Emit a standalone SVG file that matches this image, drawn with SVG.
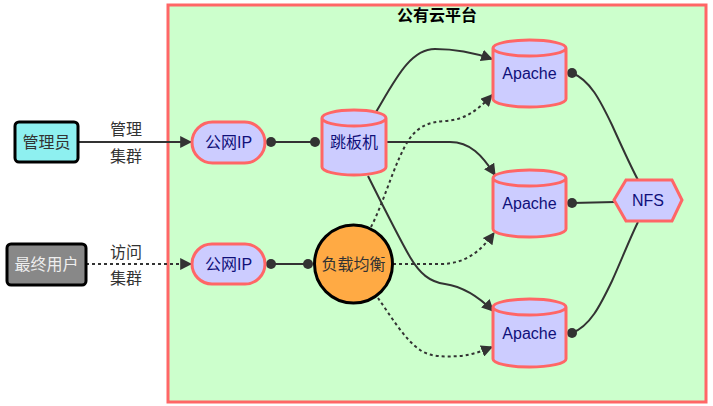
<svg xmlns="http://www.w3.org/2000/svg" width="713" height="406" viewBox="0 0 713 406">
<style>
text{font-family:"Liberation Sans","Noto Sans CJK SC",sans-serif;font-size:16px;text-anchor:middle;dominant-baseline:central}
.pool{fill:#ccccff;stroke:#ff6666;stroke-width:3}
.pt{fill:#10107a}
.lbl{fill:#333}
.e{fill:none;stroke:#333;stroke-width:2}
.d{stroke-dasharray:3 3}
.dot{fill:#333}
</style>
<defs>
<marker id="ah" viewBox="0 0 10 10" refX="9" refY="5" markerWidth="6" markerHeight="6" markerUnits="strokeWidth" orient="auto">
<path d="M0,0 L10,5 L0,10 z" fill="#333"/>
</marker>
</defs>
<g id="cluster">
<rect x="168" y="5" width="538" height="397" fill="#ccffcc" stroke="#ff6666" stroke-width="3"/>
<text x="437" y="15" font-weight="bold" fill="#000">公有云平台</text>
</g>
<g id="connectors">
<path class="e" d="M78,142 L191,142" marker-end="url(#ah)"/>
<path class="e d" d="M86,264 L191,264" marker-end="url(#ah)"/>
<path class="e" d="M271,142 L315,142"/>
<circle class="dot" cx="271" cy="142" r="5"/>
<circle class="dot" cx="315" cy="142" r="5"/>
<path class="e" d="M271,264 L308,264"/>
<circle class="dot" cx="271" cy="264" r="5"/>
<circle class="dot" cx="308" cy="264" r="5"/>
<path class="e" d="M376,112 C395,80 410,49 435,49 C455,49 475,53 492,59" marker-end="url(#ah)"/>
<path class="e" d="M386,142 L450,142 C470,142 482,155 495,175" marker-end="url(#ah)"/>
<path class="e" d="M368,176 C375,190 400,240 410,257 C420,274 430,282 445,284 C465,287 480,298 493,311" marker-end="url(#ah)"/>
<path class="e d" d="M371,227 C385,200 395,160 410,138 C420,125 430,122 445,121 C465,120 478,110 492,95" marker-end="url(#ah)"/>
<path class="e d" d="M393,264 L440,264 C465,264 480,252 494,233" marker-end="url(#ah)"/>
<path class="e d" d="M378,298 C390,315 405,340 420,350 C430,357 445,357 460,356 C472,355 482,351 492,347" marker-end="url(#ah)"/>
<path class="e" d="M572,73 C590,80 600,100 612,125 C622,147 630,165 638,180"/>
<path class="e" d="M572,203 L615,202"/>
<path class="e" d="M572,333 C590,326 600,306 612,281 C622,259 630,238 638,222"/>
<circle class="dot" cx="572" cy="73" r="5"/>
<circle class="dot" cx="572" cy="203" r="5"/>
<circle class="dot" cx="572" cy="333" r="5"/>
<text class="lbl" x="126" y="129">管理</text>
<text class="lbl" x="126" y="156">集群</text>
<text class="lbl" x="126" y="252">访问</text>
<text class="lbl" x="126" y="278">集群</text>
</g>
<g id="admin">
<rect x="15" y="122" width="63" height="40" rx="4" fill="#8ef0f0" stroke="#000" stroke-width="3"/>
<text x="46.5" y="142" fill="#333">管理员</text>
</g>
<g id="user">
<rect x="7" y="244" width="79" height="41" rx="4" fill="#888888" stroke="#000" stroke-width="3"/>
<text x="46.5" y="264" fill="#eeeeee">最终用户</text>
</g>
<g id="ip1">
<rect class="pool" x="192" y="122" width="73" height="41" rx="20.5"/>
<text class="pt" x="228.5" y="142">公网IP</text>
</g>
<g id="ip2">
<rect class="pool" x="192" y="244" width="73" height="40" rx="20"/>
<text class="pt" x="228.5" y="264">公网IP</text>
</g>
<g id="jump">
<path class="pool" d="M322,118 a32,8 0 0 0 64,0 a32,8 0 0 0 -64,0 l0,49 a32,8 0 0 0 64,0 l0,-49"/>
<text class="pt" x="354" y="142">跳板机</text>
</g>
<g id="lb">
<circle cx="353.5" cy="264" r="39" fill="#ffaa44" stroke="#000" stroke-width="3"/>
<text x="353.5" y="264" fill="#333">负载均衡</text>
</g>
<g id="apache1">
<path class="pool" d="M493,48 a36.5,8 0 0 0 73,0 a36.5,8 0 0 0 -73,0 l0,51 a36.5,8 0 0 0 73,0 l0,-51"/>
<text class="pt" x="529.5" y="73">Apache</text>
</g>
<g id="apache2">
<path class="pool" d="M493,178 a36.5,8 0 0 0 73,0 a36.5,8 0 0 0 -73,0 l0,51 a36.5,8 0 0 0 73,0 l0,-51"/>
<text class="pt" x="529.5" y="203">Apache</text>
</g>
<g id="apache3">
<path class="pool" d="M493,307 a36.5,8 0 0 0 73,0 a36.5,8 0 0 0 -73,0 l0,52 a36.5,8 0 0 0 73,0 l0,-52"/>
<text class="pt" x="529.5" y="333">Apache</text>
</g>
<g id="nfs">
<polygon class="pool" points="614,200 626,180 672,180 682,200 672,221 626,221"/>
<text class="pt" x="648" y="200">NFS</text>
</g>
</svg>
